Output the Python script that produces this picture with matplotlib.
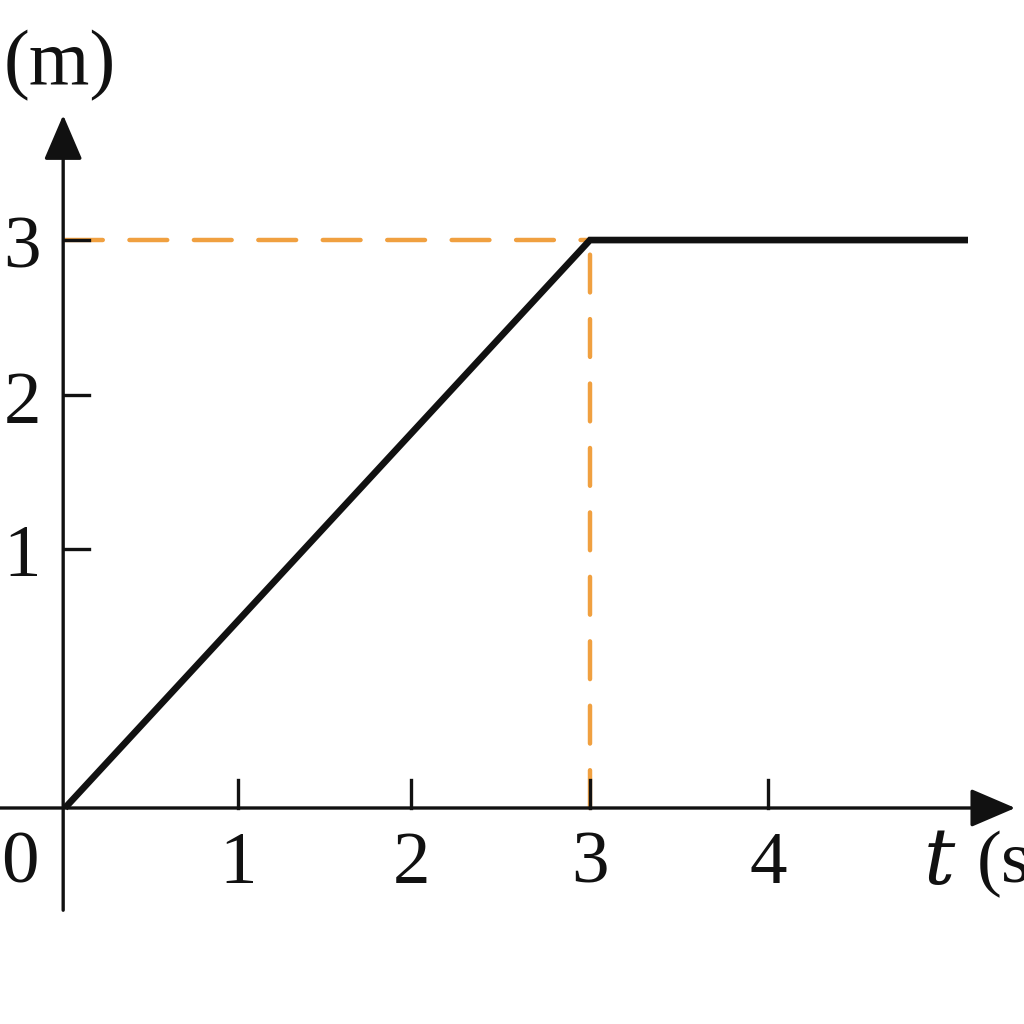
import matplotlib.pyplot as plt

# position-time data (s, m)
t = [0, 3, 5.16]
x = [0, 3, 3]

xtick_pos = [0.99, 1.98, 3.0, 4.02]
xtick_labels = ['1', '2', '3', '4']
# y ticks as drawn in the picture (not evenly spaced)
ytick_pos = [1.37, 2.18, 3.0]
ytick_labels = ['1', '2', '3']

plt.rcParams['font.family'] = ['Liberation Serif', 'DejaVu Serif']

fig = plt.figure(figsize=(10.24, 10.24), dpi=100)
ax = fig.add_axes([0, 0, 1, 1])
ax.set_xlim(-0.371, 5.48)
ax.set_ylim(-1.141, 4.268)
ax.axis('off')

black = '#111111'
orange = '#F0A040'
fs = 54

# axes with arrows
head = '-|>,head_length=2.8,head_width=1.2'
ax.annotate('', xy=(5.43, 0), xytext=(-0.38, 0),
            arrowprops=dict(arrowstyle=head, color=black, lw=2.4, shrinkA=0, shrinkB=0))
ax.annotate('', xy=(-0.01, 3.66), xytext=(-0.01, -0.54),
            arrowprops=dict(arrowstyle=head, color=black, lw=2.4, shrinkA=0, shrinkB=0))

# dashed guide lines
dash = (0, (8.5, 6))
ax.plot([0, t[1]], [x[1], x[1]], color=orange, lw=3.2, ls=dash, dash_capstyle='round')
ax.plot([t[1], t[1]], [0, x[1]], color=orange, lw=3.2, ls=dash, dash_capstyle='round')

# graph
ax.plot(t, x, color=black, lw=4.8, solid_joinstyle='miter', solid_capstyle='butt')

# tick marks and labels
for p, lab in zip(xtick_pos, xtick_labels):
    ax.plot([p, p], [0, 0.15], color=black, lw=2.4)
    ax.text(p, -0.3, lab, ha='center', va='center', fontsize=fs, color=black)
for p, lab in zip(ytick_pos, ytick_labels):
    ax.plot([0, 0.14], [p, p], color=black, lw=2.4)
    ax.text(-0.245, p - 0.05, lab, ha='center', va='center', fontsize=fs, color=black)

ax.text(-0.26, -0.3, '0', ha='center', va='center', fontsize=fs, color=black)
ax.text(-0.03, 3.92, '(m)', ha='center', va='center', fontsize=fs + 2, color=black)
ax.text(5.0, -0.3, '$t$', ha='center', va='center', fontsize=fs + 2, color=black,
        math_fontfamily='dejavuserif')
ax.text(5.21, -0.3, '(s)', ha='left', va='center', fontsize=fs, color=black)

fig.savefig('out.png', dpi=100)
